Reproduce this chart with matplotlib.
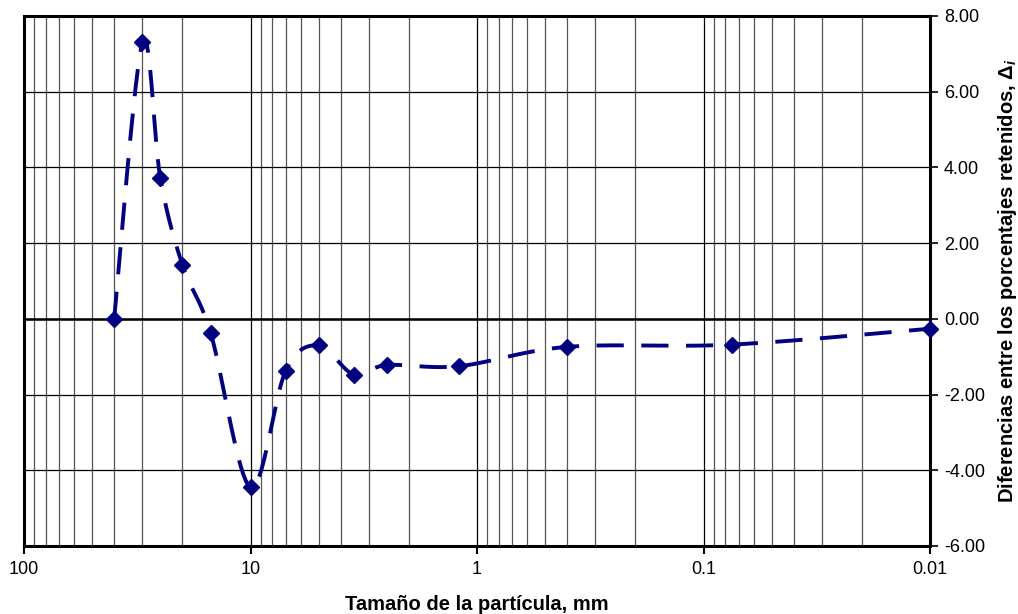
import numpy as np
import matplotlib
matplotlib.use("Agg")
import matplotlib.pyplot as plt
from matplotlib.ticker import FixedLocator, LogLocator, NullFormatter, FuncFormatter

plt.rcParams['font.family'] = ['Liberation Sans', 'DejaVu Sans']
plt.rcParams['mathtext.fontset'] = 'custom'
plt.rcParams['mathtext.it'] = 'Liberation Sans:italic:bold'
plt.rcParams['mathtext.rm'] = 'Liberation Sans:bold'

# particle size (mm) and difference in retained percentage
sizes = [40, 30, 25, 20, 15, 10, 7, 5, 3.5, 2.5, 1.2, 0.4, 0.075, 0.01]
deltas = [0.00, 7.30, 3.71, 1.43, -0.37, -4.45, -1.38, -0.70, -1.47, -1.22, -1.25, -0.74, -0.68, -0.26]

x_ticks = [100, 10, 1, 0.1, 0.01]
x_tick_labels = ['100', '10', '1', '0.1', '0.01']
y_ticks = [-6, -4, -2, 0, 2, 4, 6, 8]

navy = '#000080'

fig = plt.figure(figsize=(10.18, 6.14), dpi=100)
ax = fig.add_axes([24 / 1018, 1 - 546 / 614, 906 / 1018, 530 / 614])

ax.set_xscale('log')
ax.set_xlim(100, 0.01)
ax.set_ylim(-6, 8)

# grid: horizontal major lines, vertical lines at every log step
ax.xaxis.set_major_locator(FixedLocator(x_ticks))
ax.xaxis.set_minor_locator(LogLocator(base=10, subs=np.arange(2, 10)))
ax.xaxis.set_minor_formatter(NullFormatter())
ax.set_xticklabels(x_tick_labels)
ax.set_yticks(y_ticks)
ax.yaxis.set_major_formatter(FuncFormatter(lambda v, p: f'{v:.2f}'))
ax.yaxis.tick_right()
ax.yaxis.set_label_position('right')

ax.grid(True, which='major', axis='both', color='black', lw=0.9)
ax.grid(True, which='minor', axis='x', color='#555555', lw=0.9)
ax.axhline(0, color='black', lw=1.8, zorder=1.5)
ax.set_axisbelow(True)

ax.tick_params(axis='x', which='major', direction='out', length=6, width=1.5,
               labelsize=13, pad=5)
ax.tick_params(axis='x', which='minor', length=0)
ax.tick_params(axis='y', which='major', direction='out', length=6, width=1.2,
               labelsize=13, pad=4, right=True, left=False)
for s in ax.spines.values():
    s.set_linewidth(2.2)
    s.set_color('black')

# smoothed curve (Bezier through points in display space, Excel style)
fig.canvas.draw()
pts = ax.transData.transform(np.column_stack([sizes, deltas]))
n = len(pts)
curve = []
for i in range(n - 1):
    p0 = pts[i - 1] if i > 0 else pts[i]
    p1 = pts[i]
    p2 = pts[i + 1]
    p3 = pts[i + 2] if i + 2 < n else pts[i + 1]
    c1 = p1 + (p2 - p0) / 6
    c2 = p2 - (p3 - p1) / 6
    t = np.linspace(0, 1, 40)[:, None]
    seg = ((1 - t) ** 3) * p1 + 3 * ((1 - t) ** 2) * t * c1 + 3 * (1 - t) * t ** 2 * c2 + t ** 3 * p2
    curve.append(seg if i == 0 else seg[1:])
curve = ax.transData.inverted().transform(np.vstack(curve))

ax.plot(curve[:, 0], curve[:, 1], color=navy, lw=2.8, dashes=(7, 4.5), zorder=3)
ax.plot(sizes, deltas, linestyle='none', marker='D', markersize=8,
        color=navy, zorder=4, clip_on=False)

ax.set_xlabel('Tamaño de la partícula, mm', fontsize=14.5, fontweight='bold', labelpad=12)
ax.set_ylabel(r'Diferencias entre los porcentajes retenidos, $\mathit{\Delta_i}$',
              fontsize=14.5, fontweight='bold', labelpad=8)

fig.savefig('out.png', dpi=100)
